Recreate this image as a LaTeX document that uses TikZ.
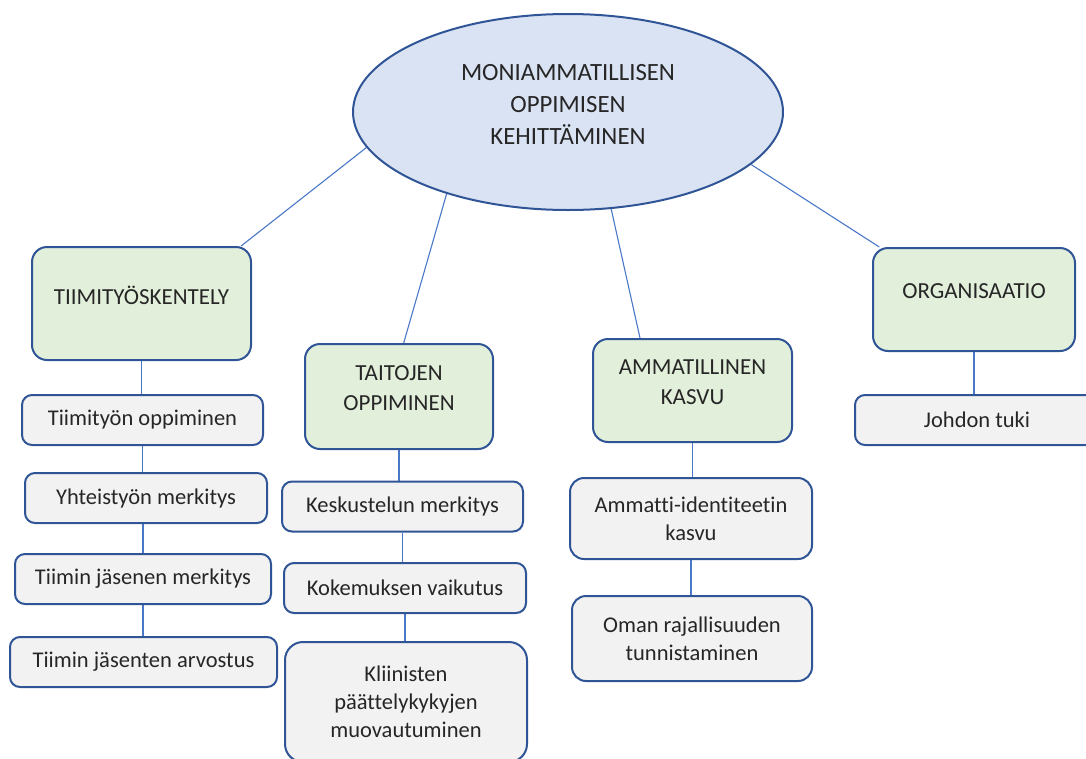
\documentclass[tikz,border=0pt]{standalone}
\usepackage{fontspec}
\setmainfont{Carlito}[Ligatures=NoCommon]
\usetikzlibrary{shapes.geometric,backgrounds}

\definecolor{reuna}{HTML}{2F5597}
\definecolor{sininen}{HTML}{DAE3F3}
\definecolor{vihrea}{HTML}{E2EFDA}
\definecolor{harmaa}{HTML}{F2F2F2}
\definecolor{viiva}{HTML}{4A78C8}

\begin{document}
\begin{tikzpicture}[x=1pt, y=-1pt,
    paa/.style={ellipse, draw=reuna, line width=2pt, fill=sininen, minimum width=430, minimum height=196,
        align=center, text=black!85, text depth=16pt, font=\fontsize{24.8}{32}\selectfont},
    alue/.style={rectangle, draw=reuna, line width=2pt, fill=vihrea, rounded corners=15pt, inner sep=0pt,
        align=center, text=black!85, text depth=16pt, font=\fontsize{23}{30}\selectfont},
    kohta/.style={rectangle, draw=reuna, line width=2pt, fill=harmaa, rounded corners=10pt, inner sep=0pt,
        minimum height=50, align=center, text=black!85, font=\fontsize{22.5}{28}\selectfont},
    yhteys/.style={draw=viiva, line width=1.1pt}]
    \useasboundingbox (0,0) rectangle (1086,758);

    \node[paa] (paa) at (568,112) {MONIAMMATILLISEN\\OPPIMISEN\\KEHITTÄMINEN};

    \node[alue, minimum width=219, minimum height=113] (tiimi) at (141.5,303.5) {TIIMITYÖSKENTELY};
    \node[alue, minimum width=188, minimum height=105] (taidot) at (399,396.5) {TAITOJEN\\OPPIMINEN};
    \node[alue, minimum width=199, minimum height=103] (kasvu) at (692.5,390.5) {AMMATILLINEN\\KASVU};
    \node[alue, minimum width=202, minimum height=103] (org) at (974,299.5) {ORGANISAATIO};

    \node[kohta, minimum width=241] (t1) at (142.5,420) {Tiimityön oppiminen};
    \node[kohta, minimum width=242] (t2) at (146,498) {Yhteistyön merkitys};
    \node[kohta, minimum width=256] (t3) at (143,579) {Tiimin jäsenen merkitys};
    \node[kohta, minimum width=267] (t4) at (143.5,662) {Tiimin jäsenten arvostus};

    \node[kohta, minimum width=241] (a1) at (402.5,506.5) {Keskustelun merkitys};
    \node[kohta, minimum width=242] (a2) at (405,588) {Kokemuksen vaikutus};
    \node[kohta, minimum width=242, minimum height=120, rounded corners=18pt] (a3) at (406,702) {Kliinisten\\päättelykykyjen\\muovautuminen};

    \node[kohta, minimum width=242, minimum height=81, rounded corners=14pt] (k1) at (691,518.5) {Ammatti-identiteetin\\kasvu};
    \node[kohta, minimum width=240, minimum height=85, rounded corners=14pt] (k2) at (692,638.5) {Oman rajallisuuden\\tunnistaminen};

    \node[kohta, minimum width=244] (o1) at (977,420) {Johdon tuki};

    \begin{pgfonlayer}{background}
        \draw[yhteys] (paa.190) -- (tiimi.30);
        \draw[yhteys] (paa.214.5) -- (taidot.85);
        \draw[yhteys] (paa.294) -- (kasvu.135);
        \draw[yhteys] (paa.344) -- (org.151);

        \draw[yhteys] (tiimi.south) -- (tiimi.south |- t1.north);
        \draw[yhteys] (t1.south) -- (t1.south |- t2.north);
        \draw[yhteys] (t3.north) -- (t3.north |- t2.south);
        \draw[yhteys] (t3.south) -- (t3.south |- t4.north);

        \draw[yhteys] (taidot.south) -- (taidot.south |- a1.north);
        \draw[yhteys] (a1.south) -- (a1.south |- a2.north);
        \draw[yhteys] (a2.south) -- (a2.south |- a3.north);

        \draw[yhteys] (kasvu.south) -- (kasvu.south |- k1.north);
        \draw[yhteys] (k1.south) -- (k1.south |- k2.north);

        \draw[yhteys] (org.south) -- (org.south |- o1.north);
    \end{pgfonlayer}
\end{tikzpicture}
\end{document}
